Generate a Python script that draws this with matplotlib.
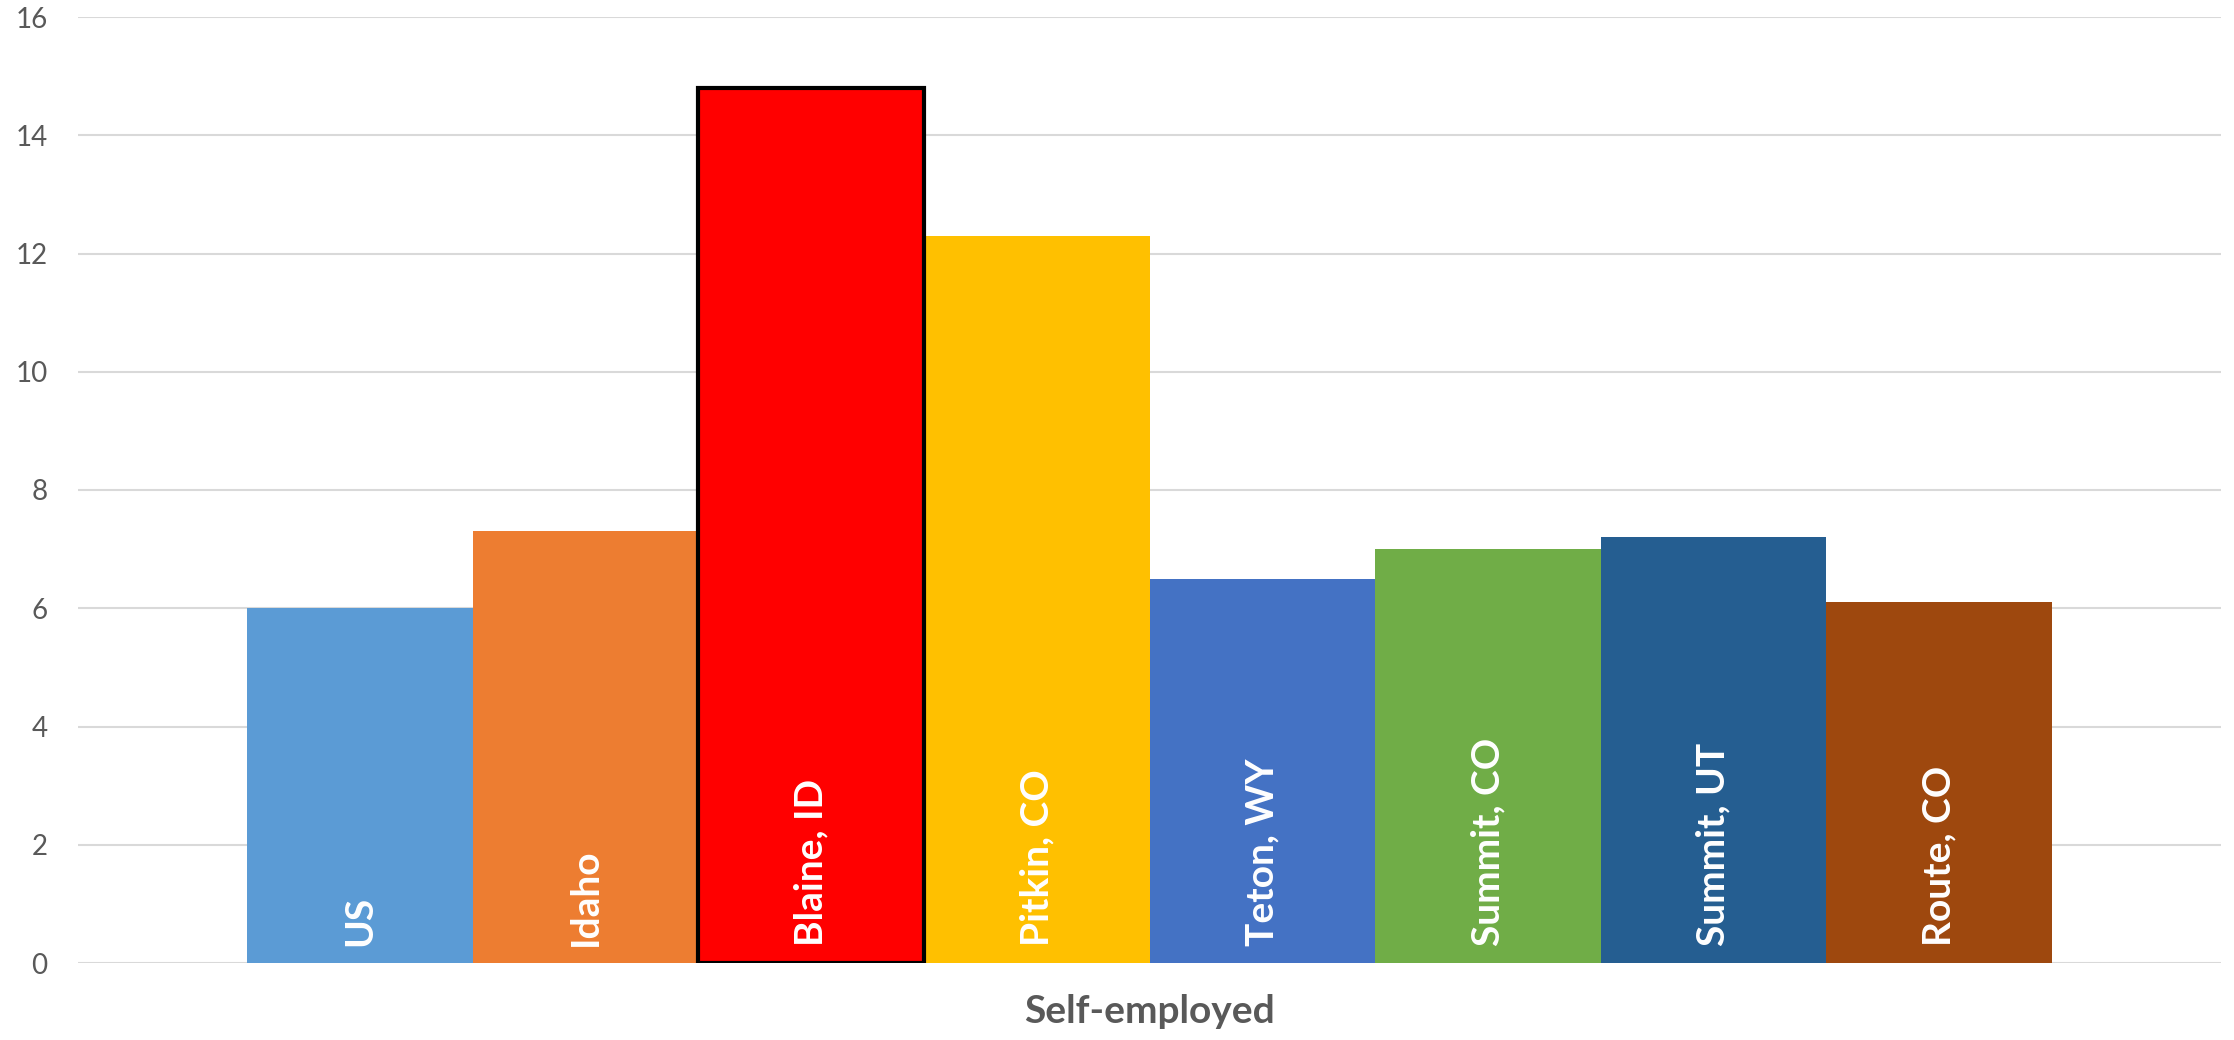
import matplotlib
matplotlib.use("Agg")
import matplotlib.pyplot as plt

categories = ["US", "Idaho", "Blaine, ID", "Pitkin, CO", "Teton, WY", "Summit, CO", "Summit, UT", "Route, CO"]
values = [6.0, 7.3, 14.8, 12.3, 6.5, 7.0, 7.2, 6.1]
colors = ["#5B9BD5", "#ED7D31", "#FF0000", "#FFC000", "#4472C4", "#70AD47", "#255E91", "#9E480E"]
yticks = [0, 2, 4, 6, 8, 10, 12, 14, 16]
xlabel = "Self-employed"

plt.rcParams['font.family'] = ['Lato', 'DejaVu Sans']

fig = plt.figure(figsize=(22.34, 10.40), dpi=100)
ax = fig.add_axes([78/2234, 1 - 963/1040, (2221 - 78)/2234, (963 - 17)/1040])

x = list(range(len(categories)))
bars = ax.bar(x, values, width=1.0, color=colors, zorder=2, linewidth=0)
# highlighted bar
bars[2].set_edgecolor("black")
bars[2].set_linewidth(3)
bars[2].set_zorder(3)

for xi, name in zip(x, categories):
    ax.annotate(name, xy=(xi, 0), xytext=(0, 12), textcoords="offset points",
                rotation=90, ha="center", va="bottom", color="white",
                fontsize=28, fontweight="bold", zorder=4)

ax.set_xlim(-1.25, 8.25)
ax.set_ylim(0, 16)
ax.set_yticks(yticks)
ax.set_yticklabels([str(t) for t in yticks])
ax.set_xticks([])
ax.tick_params(axis="y", length=0, pad=22, labelsize=20, labelcolor="#595959")
ax.yaxis.grid(True, color="#D9D9D9", linewidth=1.5, zorder=0)
ax.set_axisbelow(True)
for s in ax.spines.values():
    s.set_visible(False)

ax.set_xlabel(xlabel, fontsize=28, fontweight="bold", color="#595959", labelpad=22)

fig.savefig("out.png", dpi=100)
